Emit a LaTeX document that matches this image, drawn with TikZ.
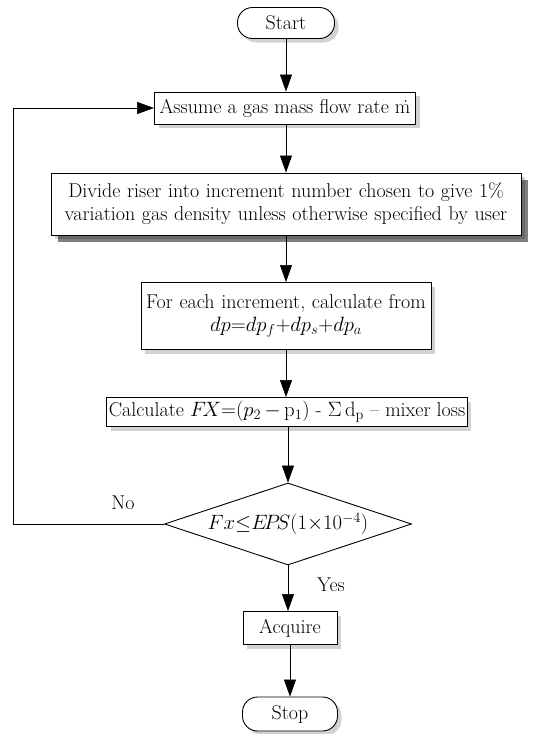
\documentclass[tikz,border=0pt]{standalone}
\usepackage{tikz}
\usetikzlibrary{positioning,arrows.meta,shapes.geometric,shadows}
\usepackage{amsmath}

\tikzset{
  stepbox/.style={draw, line width=0.9pt, fill=white, inner sep=2pt,
                  align=center, font=\fontsize{20}{23}\selectfont,
                  drop shadow={shadow xshift=4pt, shadow yshift=-4pt, fill=black!35}},
  heavybox/.style={stepbox, drop shadow={shadow xshift=7pt, shadow yshift=-7pt, fill=black}},
  terminal/.style={stepbox, rounded corners=15pt},
  testbox/.style={diamond, draw, line width=0.9pt, fill=white, inner sep=0pt,
                  minimum width=247pt, minimum height=82pt},
  flow/.style={line width=0.6pt, -{Triangle[length=17pt,width=12pt]}},
  tag/.style={font=\fontsize{20}{23}\selectfont}
}

\begin{document}
\begin{tikzpicture}[x=1pt,y=-1pt]
\useasboundingbox (0,0) rectangle (536,734);

% boxes of the chart
\node[terminal, minimum width=97pt, minimum height=31pt] (start) at (286,23) {Start};
\node[stepbox, minimum width=261pt, minimum height=32pt] (assume) at (285,108)
  {Assume a gas mass flow rate \.m};
\node[heavybox, text width=466pt, minimum height=62pt] (divide) at (286,204)
  {Divide riser into increment number chosen to give 1\%\\
   variation gas density unless otherwise specified by user};
\node[stepbox, text width=286pt, minimum height=67pt] (each) at (286,316)
  {For each increment, calculate from\\ $dp{=}dp_f{+}dp_s{+}dp_a$};
\node[stepbox, minimum width=355pt, minimum height=29pt] (calc) at (287,412)
  {Calculate $F\!X{=}(p_2{\,-\,}\mathrm{p}_1)$ - $\Sigma\,\mathrm{d_p}$ -- mixer loss};
\node[testbox, label={[tag]center:$Fx{\le}E\!P\!S(1{\times}10^{-4})$}] (test) at (288,524) {};
\node[stepbox, minimum width=94pt, minimum height=33pt] (acquire) at (290,628) {Acquire};
\node[terminal, minimum width=95pt, minimum height=34pt] (stop) at (290,714) {Stop};

\coordinate (back) at (13,524);

% connectors
\draw[flow] (start.south) -- (start.south |- assume.north);
\draw[flow] (divide.north |- assume.south) -- (divide.north);
\draw[flow] (divide.south) -- (divide.south |- each.north);
\draw[flow] (each.south) -- (each.south |- calc.north);
\draw[flow] (test.north |- calc.south) -- (test.north);
\draw[flow] (test.south) -- (test.south |- acquire.north);
\draw[flow] (acquire.south) -- (stop.north);
\draw[flow] (test.west) -- (back) |- (assume.west);

\node[tag] (no) at (123,503) {No};
\node[tag] (yes) at (331,585) {Yes};
\end{tikzpicture}
\end{document}
